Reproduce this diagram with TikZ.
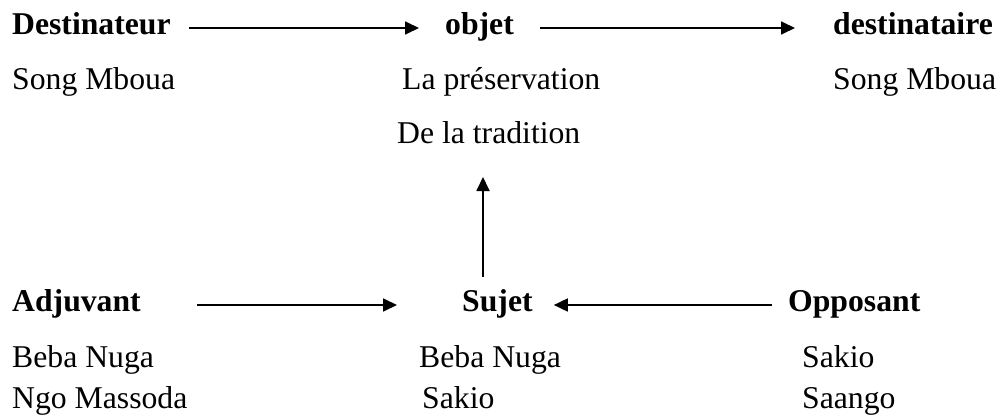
\documentclass[tikz,border=0pt]{standalone}
\usepackage{fontspec}
\setmainfont{Liberation Serif}
\usepackage{tikz}
\usetikzlibrary{arrows.meta}

\begin{document}
\begin{tikzpicture}[x=1pt,y=-1pt,
  every node/.style={anchor=base west, inner sep=0pt,
    font=\fontsize{31.7pt}{38pt}\selectfont},
  actant/.style={font=\fontsize{31.7pt}{38pt}\selectfont\bfseries},
  fleche/.style={line width=1.8pt, -{Triangle[length=14pt,width=13pt]}}]
\useasboundingbox (0,0) rectangle (998,417) ;
\node[actant] (dest) at (12,35) {Destinateur} ;
\node[actant] (obj) at (445,35) {objet} ;
\node[actant] (dsta) at (833,35) {destinataire} ;
\node (song1) at (12,90) {Song Mboua} ;
\node (pres) at (402,90) {La préservation} ;
\node (song2) at (833,90) {Song Mboua} ;
\node (trad) at (397,143) {De la tradition} ;
\node[actant] (adj) at (12,311) {Adjuvant} ;
\node[actant] (suj) at (462,311) {Sujet} ;
\node[actant] (opp) at (788,311) {Opposant} ;
\node (beba1) at (12,367) {Beba Nuga} ;
\node (beba2) at (419,367) {Beba Nuga} ;
\node (sakio1) at (802,367) {Sakio} ;
\node (ngo) at (12,408) {Ngo Massoda} ;
\node (sakio2) at (422,408) {Sakio} ;
\node (saango) at (802,408) {Saango} ;
\draw[fleche] ([xshift=18pt,yshift=7pt]dest.base east)
   -- ([xshift=-26pt,yshift=7pt]obj.base west) ;
\draw[fleche] ([xshift=26pt,yshift=7pt]obj.base east)
   -- ([xshift=-38pt,yshift=7pt]dsta.base west) ;
\draw[fleche] ([xshift=56pt,yshift=6pt]adj.base east)
   -- ([xshift=-65pt,yshift=6pt]suj.base west) ;
\draw[fleche] ([xshift=-16pt,yshift=6pt]opp.base west)
   -- ([xshift=21pt,yshift=6pt]suj.base east) ;
\draw[fleche] ([xshift=21pt,yshift=34pt]suj.base west)
   -- ([xshift=86pt,yshift=-34pt]trad.base west) ;
\end{tikzpicture}
\end{document}
